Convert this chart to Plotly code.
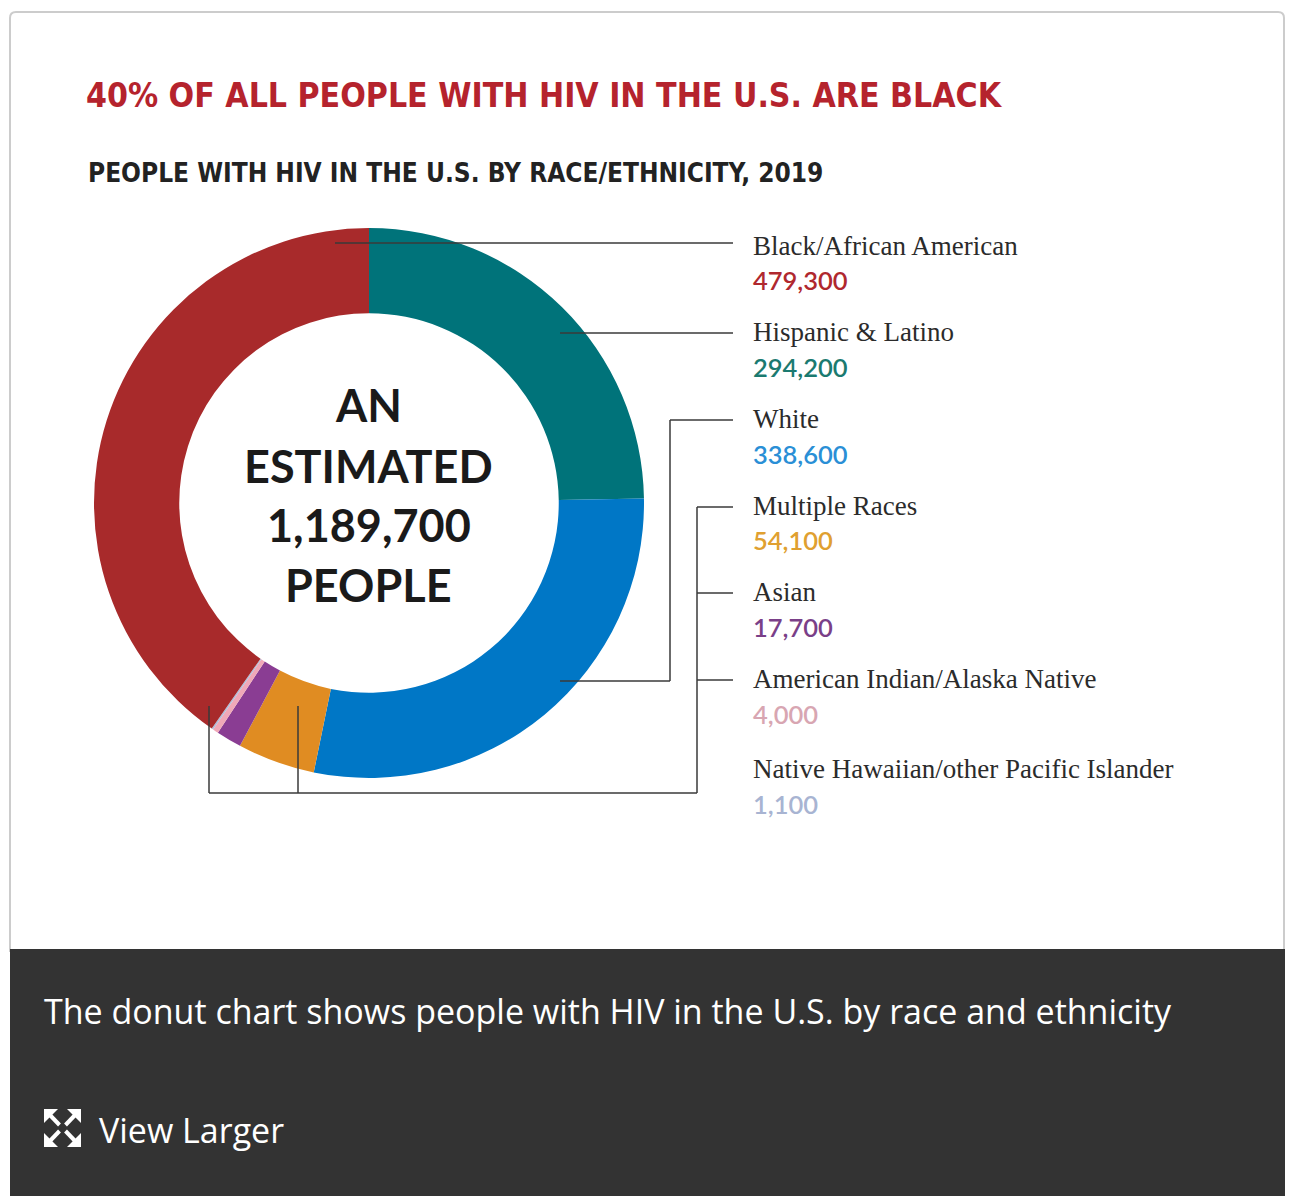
import plotly.graph_objects as go

W, H = 1293, 1196

# ---- data ----
categories = ["Black/African American", "Hispanic & Latino", "White", "Multiple Races",
              "Asian", "American Indian/Alaska Native", "Native Hawaiian/other Pacific Islander"]
values = [479300, 294200, 338600, 54100, 17700, 4000, 1100]
value_labels = ["479,300", "294,200", "338,600", "54,100", "17,700", "4,000", "1,100"]
slice_colors = ["#a82a2b", "#00737a", "#0077c6", "#e08c22", "#8a3d93", "#f0a8b8", "#b0bcd8"]
text_colors = ["#b0282e", "#1b7a70", "#2a8fd6", "#e0a030", "#7a3f88", "#d8a6b2", "#a8b4d2"]
total_label = "1,189,700"
title = "40% OF ALL PEOPLE WITH HIV IN THE U.S. ARE BLACK"
subtitle = "PEOPLE WITH HIV IN THE U.S. BY RACE/ETHNICITY, 2019"
caption = "The donut chart shows people with HIV in the U.S. by race and ethnicity"
link_text = "View Larger"

# slice order around the ring, clockwise from 12 o'clock
ring_order = [1, 2, 3, 4, 5, 6, 0]


def px(x):
    return x / W


def py(y):
    return 1 - y / H


fig = go.Figure()
fig.add_trace(go.Pie(
    labels=[categories[i] for i in ring_order],
    values=[values[i] for i in ring_order],
    marker=dict(colors=[slice_colors[i] for i in ring_order], line=dict(width=0)),
    hole=0.69,
    sort=False,
    direction="clockwise",
    rotation=0,
    textinfo="none",
    hoverinfo="label+value",
    showlegend=False,
    domain=dict(x=[px(94), px(644)], y=[py(778), py(228)]),
))

shapes = []
# card border
shapes.append(dict(type="path", xref="paper", yref="paper",
                   path=f"M {px(10)},{py(952)} L {px(10)},{py(18)} Q {px(10)},{py(12)} {px(16)},{py(12)} "
                        f"L {px(1278)},{py(12)} Q {px(1284)},{py(12)} {px(1284)},{py(18)} L {px(1284)},{py(952)}",
                   line=dict(color="#cccccc", width=2), fillcolor="rgba(0,0,0,0)", layer="below"))
# dark caption panel
shapes.append(dict(type="rect", xref="paper", yref="paper", x0=px(10), x1=px(1285), y0=py(1196), y1=py(949),
                   fillcolor="#333333", line=dict(width=0), layer="below"))

line_style = dict(color="#3a3a3a", width=1.5)


def seg(x0, y0, x1, y1):
    shapes.append(dict(type="line", xref="paper", yref="paper", x0=px(x0), y0=py(y0), x1=px(x1), y1=py(y1),
                       line=line_style, layer="above"))


# leader lines
seg(335, 243, 733, 243)
seg(560, 333, 733, 333)
seg(560, 681, 670, 681)
seg(670, 681, 670, 420)
seg(670, 420, 733, 420)
seg(209, 706, 209, 793)
seg(298, 706, 298, 793)
seg(209, 793, 697, 793)
seg(697, 793, 697, 507)
seg(697, 507, 733, 507)
seg(697, 593, 733, 593)
seg(697, 680, 733, 680)

# expand icon (four corner arrows)
ic = dict(x0=44, y0=1109, x1=81, y1=1147)
cx, cy = (ic["x0"] + ic["x1"]) / 2, (ic["y0"] + ic["y1"]) / 2
a = 14
for (sx, sy) in [(ic["x0"], ic["y0"]), (ic["x1"], ic["y0"]), (ic["x0"], ic["y1"]), (ic["x1"], ic["y1"])]:
    dx = 1 if sx < cx else -1
    dy = 1 if sy < cy else -1
    shapes.append(dict(type="path", xref="paper", yref="paper",
                       path=f"M {px(sx)},{py(sy)} L {px(sx + dx * a)},{py(sy)} L {px(sx)},{py(sy + dy * a)} Z",
                       fillcolor="white", line=dict(width=0), layer="above"))
    shapes.append(dict(type="line", xref="paper", yref="paper",
                       x0=px(sx + dx * 4), y0=py(sy + dy * 4), x1=px(cx - dx * 3), y1=py(cy - dy * 3),
                       line=dict(color="white", width=4), layer="above"))

annotations = []


def txt(x, y, text, size, color, family, weight=400, anchor="left"):
    annotations.append(dict(xref="paper", yref="paper", x=px(x), y=py(y), text=text, showarrow=False,
                            xanchor=anchor, yanchor="middle",
                            font=dict(size=size, color=color, family=family, weight=weight)))


cond = "DejaVu Sans Condensed, sans-serif"
txt(84, 96, title, 33.5, "#b5232d", cond, 700)
txt(86, 173, subtitle, 26, "#222222", cond, 700)

name_y = [246, 332, 419, 506, 592, 679, 769]
val_y = [280, 367, 454, 540, 627, 714, 804]
for i in range(len(categories)):
    txt(751, name_y[i], categories[i], 27, "#2b2b2b", "Liberation Serif, serif")
    txt(751, val_y[i], value_labels[i], 25.5, text_colors[i], "Lato, sans-serif", 600)

center_lines = ["AN", "ESTIMATED", total_label, "PEOPLE"]
center_y = [405, 466, 525, 585]
for t, yy in zip(center_lines, center_y):
    txt(369, yy, t, 45, "#1a1a1a", "Lato, sans-serif", 700, anchor="center")

txt(42, 1011, caption, 34, "#ffffff", "Open Sans, sans-serif")
txt(97, 1130, link_text, 34, "#ffffff", "Open Sans, sans-serif")

fig.update_layout(
    width=W, height=H,
    margin=dict(l=0, r=0, t=0, b=0),
    paper_bgcolor="white", plot_bgcolor="white",
    shapes=shapes, annotations=annotations,
    showlegend=False,
)

fig.write_html("out.html")
